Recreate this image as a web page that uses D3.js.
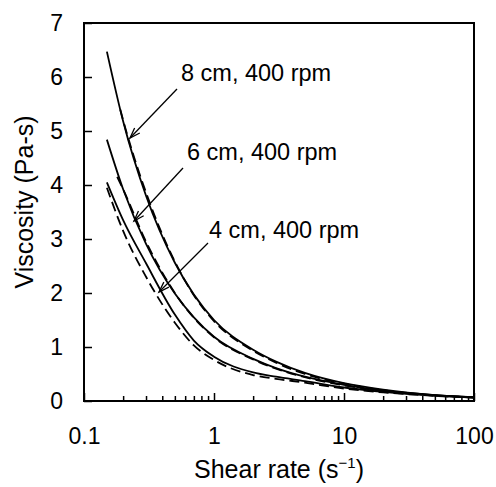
<!DOCTYPE html>
<html>
<head>
<meta charset="utf-8">
<script src="https://cdn.jsdelivr.net/npm/d3@7"></script>
<style>
  body { margin: 0; background: #fff; }
  svg text { font-family: Arial, "Liberation Sans", sans-serif; fill: #000; }
</style>
</head>
<body>
<div id="container"></div>
<script>
const WIDTH = 496,
      HEIGHT = 487;

const margin = { top: 23, right: 22, bottom: 86, left: 84 };

const width = WIDTH - margin.left - margin.right,
      height = HEIGHT - margin.top - margin.bottom;

// shear rate (1/s) and viscosity (Pa-s)
const shearSolid = [0.15, 0.2, 0.3, 0.5, 0.7, 1, 2, 3, 5, 10, 20, 50, 100];
const visc8Solid = [6.47, 5.18, 3.80, 2.56, 1.97, 1.50, 0.95, 0.73, 0.52, 0.33, 0.21, 0.11, 0.07];
const visc6Solid = [4.84, 3.92, 2.91, 1.99, 1.55, 1.19, 0.78, 0.61, 0.45, 0.30, 0.19, 0.11, 0.068];
const visc4Solid = [4.05, 3.35, 2.55, 1.60, 1.12, 0.82, 0.53, 0.45, 0.37, 0.25, 0.17, 0.10, 0.065];

const shear8Dash = [0.19, 0.2, 0.3, 0.5, 0.7, 1, 2, 3, 5, 10, 20, 50, 100];
const visc8Dash  = [5.40, 5.20, 3.86, 2.58, 1.96, 1.48, 0.93, 0.71, 0.50, 0.32, 0.20, 0.10, 0.065];
const shear6Dash = [0.18, 0.2, 0.3, 0.5, 0.7, 1, 2, 3, 5, 10, 20, 50, 100];
const visc6Dash  = [4.15, 3.92, 2.95, 2.00, 1.54, 1.18, 0.77, 0.60, 0.44, 0.29, 0.185, 0.105, 0.065];
const shear4Dash = [0.15, 0.2, 0.3, 0.5, 0.7, 1, 2, 3, 5, 10, 20, 50, 100];
const visc4Dash  = [3.95, 3.15, 2.30, 1.45, 1.03, 0.76, 0.48, 0.41, 0.34, 0.23, 0.16, 0.095, 0.062];

const xMajor = [0.1, 1, 10, 100];
const yTicks = [0, 1, 2, 3, 4, 5, 6, 7];

const labels = [
    { text: "8 cm, 400 rpm", x: 181, y: 81, from: [177, 89], to: [130, 138] },
    { text: "6 cm, 400 rpm", x: 187, y: 160, from: [183, 168], to: [134, 221] },
    { text: "4 cm, 400 rpm", x: 209, y: 238, from: [208, 243], to: [159, 292] },
];

const series = [
    { x: shearSolid, y: visc8Solid, dash: null },
    { x: shear8Dash, y: visc8Dash, dash: "10,5" },
    { x: shearSolid, y: visc6Solid, dash: null },
    { x: shear6Dash, y: visc6Dash, dash: "10,5" },
    { x: shearSolid, y: visc4Solid, dash: null },
    { x: shear4Dash, y: visc4Dash, dash: "10,5" },
];

const svg = d3.select('#container').append('svg')
    .attr("width", WIDTH).attr("height", HEIGHT);

const container = svg.append('g')
    .attr("transform", `translate(${margin.left}, ${margin.top})`);

const xScale = d3.scaleLog().domain([0.1, 100]).range([0, width]);
const yScale = d3.scaleLinear().domain([0, 7]).range([height, 0]);

// minor ticks on the log axis
const xMinor = [];
[0.1, 1, 10].forEach(d => { for (let k = 2; k <= 9; k++) xMinor.push(d * k); });

const xAxis = d3.axisBottom(xScale).tickValues(xMajor)
    .tickSizeInner(-8).tickSizeOuter(0).tickPadding(27)
    .tickFormat(d => d < 1 ? d.toString() : d3.format("d")(d));
const xAxisMinor = d3.axisBottom(xScale).tickValues(xMinor)
    .tickSizeInner(-5).tickSizeOuter(0).tickFormat("");
const yAxis = d3.axisLeft(yScale).tickValues(yTicks)
    .tickSizeInner(-8).tickSizeOuter(0).tickPadding(21)
    .tickFormat(d3.format("d"));

const gx = container.append("g")
    .attr("transform", `translate(0, ${height})`)
    .call(xAxis);
const gxm = container.append("g")
    .attr("transform", `translate(0, ${height})`)
    .call(xAxisMinor);
const gy = container.append("g").call(yAxis);

[gx, gxm, gy].forEach(g => {
    g.select(".domain").remove();
    g.selectAll("line").attr("stroke", "#000").attr("stroke-width", 1.5);
    g.selectAll("text").style("font-size", "23px").attr("fill", "#000");
});

container.append("rect")
    .attr("width", width).attr("height", height)
    .attr("fill", "none").attr("stroke", "#000").attr("stroke-width", 2);

const line = d3.line()
    .x(d => xScale(d[0]))
    .y(d => yScale(d[1]))
    .curve(d3.curveMonotoneX);

container.selectAll("path.curve")
    .data(series)
    .join("path")
    .attr("class", "curve")
    .attr("d", s => line(s.x.map((v, i) => [v, s.y[i]])))
    .attr("fill", "none")
    .attr("stroke", "#000")
    .attr("stroke-width", 1.8)
    .attr("stroke-dasharray", s => s.dash);

// annotations with arrows
labels.forEach(l => {
    svg.append("text")
        .attr("x", l.x).attr("y", l.y)
        .style("font-size", "23.5px")
        .text(l.text);
    svg.append("line")
        .attr("x1", l.from[0]).attr("y1", l.from[1])
        .attr("x2", l.to[0]).attr("y2", l.to[1])
        .attr("stroke", "#000").attr("stroke-width", 1.3);
    const ang = Math.atan2(l.to[1] - l.from[1], l.to[0] - l.from[0]);
    const len = 11, spread = 0.33;
    const p1 = [l.to[0] - len * Math.cos(ang - spread), l.to[1] - len * Math.sin(ang - spread)];
    const p2 = [l.to[0] - len * Math.cos(ang + spread), l.to[1] - len * Math.sin(ang + spread)];
    svg.append("path")
        .attr("d", `M${p1[0]},${p1[1]}L${l.to[0]},${l.to[1]}L${p2[0]},${p2[1]}`)
        .attr("fill", "none").attr("stroke", "#000").attr("stroke-width", 1.3);
});

// axis titles
const xTitle = svg.append("text")
    .attr("x", margin.left + width / 2)
    .attr("y", 478)
    .attr("text-anchor", "middle")
    .style("font-size", "25px");
xTitle.append("tspan").text("Shear rate (s");
xTitle.append("tspan").attr("dy", -10).style("font-size", "15px").text("\u22121");
xTitle.append("tspan").attr("dy", 10).text(")");

svg.append("text")
    .attr("transform", `translate(33, ${margin.top + height / 2 - 10}) rotate(-90)`)
    .attr("text-anchor", "middle")
    .style("font-size", "25px")
    .text("Viscosity (Pa-s)");
</script>
</body>
</html>
